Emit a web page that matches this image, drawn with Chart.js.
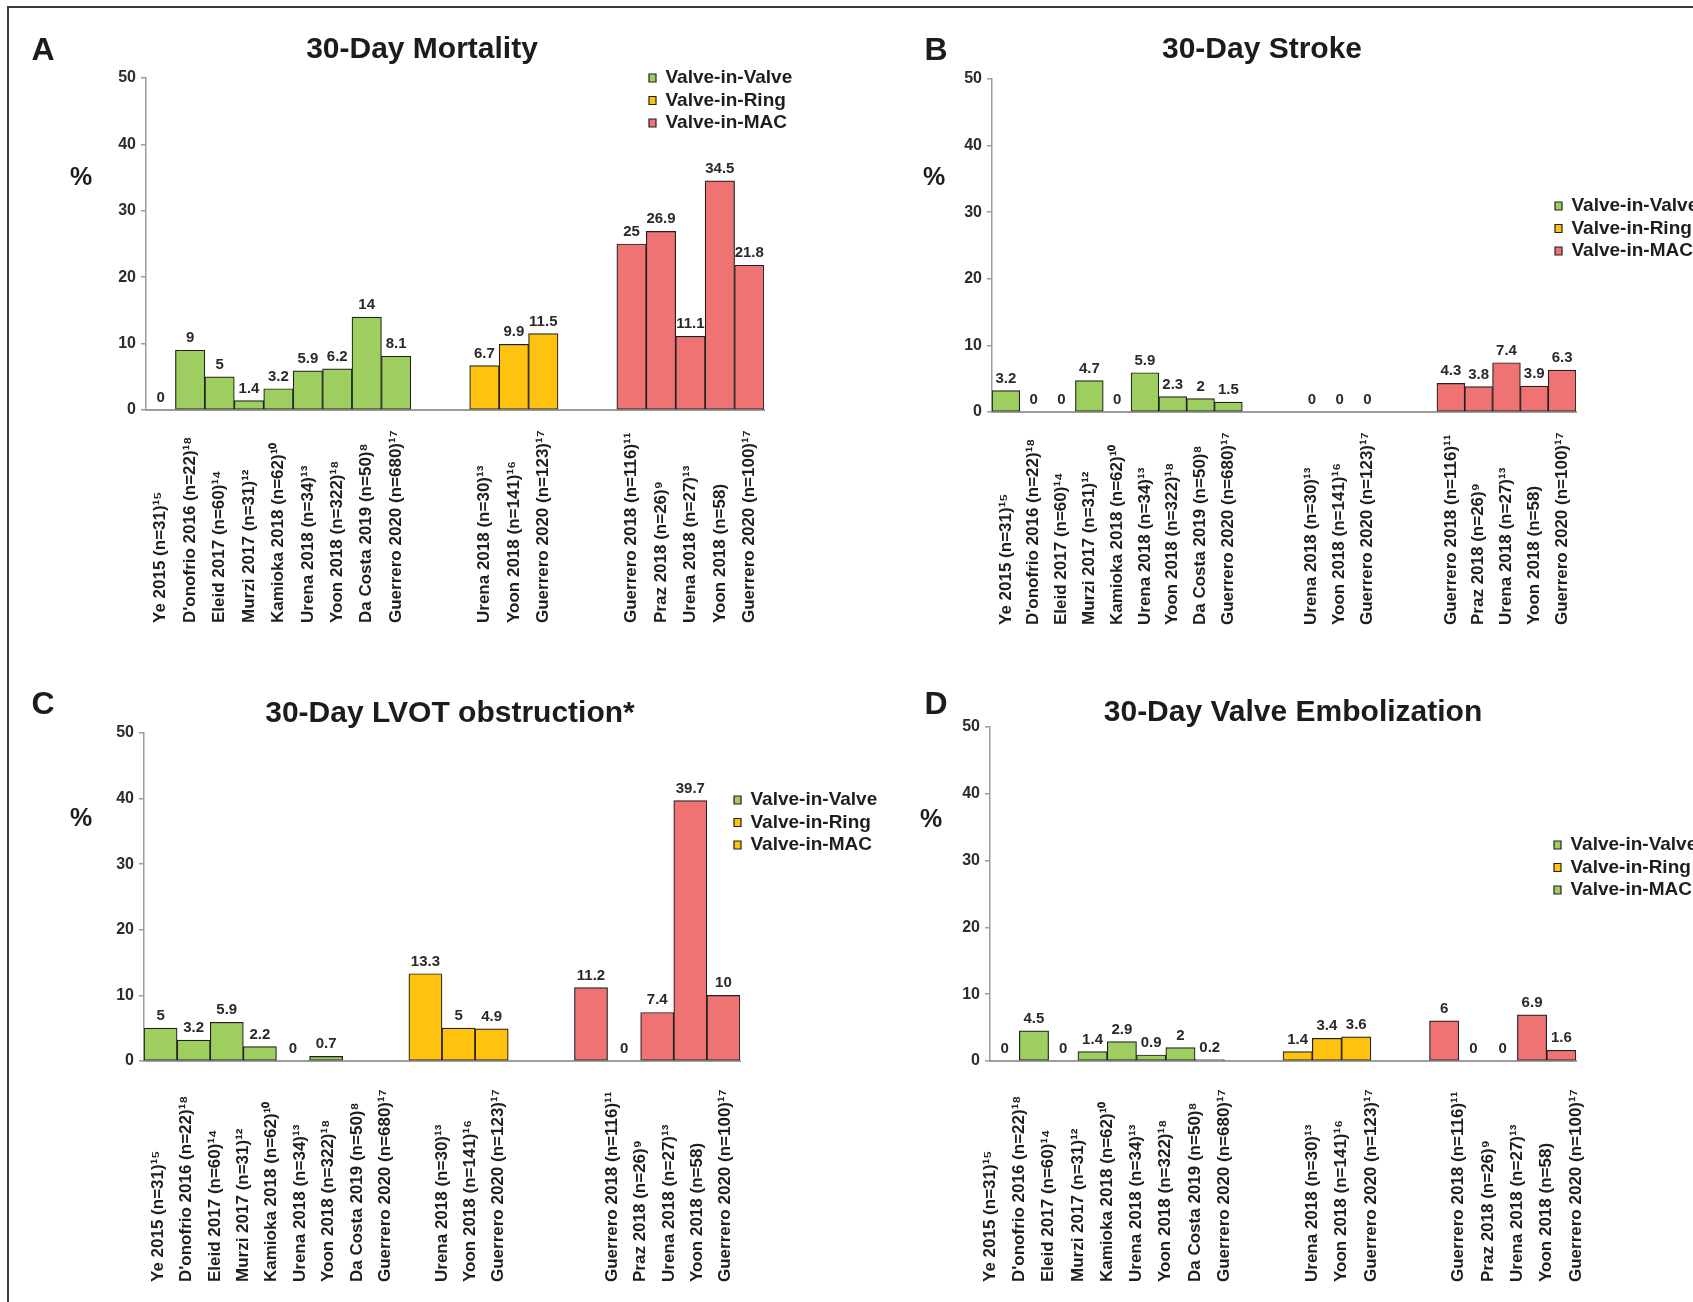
<!DOCTYPE html>
<html>
<head>
<meta charset="utf-8">
<script src="https://cdn.jsdelivr.net/npm/chart.js@4.4.1/dist/chart.umd.min.js"></script>
<style>
  html, body { margin: 0; padding: 0; background: #fff; }
  body { width: 1693px; height: 1302px; position: relative; overflow: hidden;
         font-family: "Liberation Sans", Arial, Helvetica, sans-serif; }
  .frame { position: absolute; left: 7px; top: 6px; width: 1720px; height: 1400px;
           border-top: 2px solid #3a3a3a; border-left: 2px solid #3a3a3a; }
  canvas.panel { position: absolute; }
  .txt { position: absolute; transform: translate(-50%, -50%); line-height: 1;
         font-weight: bold; color: #1c1c1c; white-space: nowrap; }
</style>
</head>
<body>
<div class="frame"></div>
<canvas id="panelA" class="panel" style="left:0px;top:0px;width:846px;height:650px" width="846" height="650"></canvas>
<canvas id="panelB" class="panel" style="left:846px;top:0px;width:847px;height:650px" width="847" height="650"></canvas>
<canvas id="panelC" class="panel" style="left:0px;top:650px;width:900px;height:652px" width="900" height="652"></canvas>
<canvas id="panelD" class="panel" style="left:846px;top:650px;width:847px;height:652px" width="847" height="652"></canvas>

<div class="txt" style="left:43px;top:49px;font-size:32px">A</div>
<div class="txt" style="left:936px;top:49px;font-size:32px">B</div>
<div class="txt" style="left:43px;top:703px;font-size:32px">C</div>
<div class="txt" style="left:936px;top:703px;font-size:32px">D</div>
<div class="txt" style="left:81px;top:176px;font-size:25px">%</div>
<div class="txt" style="left:934px;top:176px;font-size:25px">%</div>
<div class="txt" style="left:81px;top:817px;font-size:25px">%</div>
<div class="txt" style="left:931px;top:818px;font-size:25px">%</div>

<script>
// ---------------- data ----------------
const seriesNames = ['Valve-in-Valve', 'Valve-in-Ring', 'Valve-in-MAC'];

const vivStudies = ['Ye 2015 (n=31)¹⁵', "D'onofrio 2016 (n=22)¹⁸", 'Eleid 2017 (n=60)¹⁴',
  'Murzi 2017 (n=31)¹²', 'Kamioka 2018 (n=62)¹⁰', 'Urena 2018 (n=34)¹³',
  'Yoon 2018 (n=322)¹⁸', 'Da Costa 2019 (n=50)⁸', 'Guerrero 2020 (n=680)¹⁷'];
const virStudies = ['Urena 2018 (n=30)¹³', 'Yoon 2018 (n=141)¹⁶', 'Guerrero 2020 (n=123)¹⁷'];
const macStudies = ['Guerrero 2018 (n=116)¹¹', 'Praz 2018 (n=26)⁹', 'Urena 2018 (n=27)¹³',
  'Yoon 2018 (n=58)', 'Guerrero 2020 (n=100)¹⁷'];

const yTickMin = 0;
const yTickMax = 50;
const yTickStep = 10;

const mortalityViV = [0, 9, 5, 1.4, 3.2, 5.9, 6.2, 14, 8.1];
const mortalityViR = [6.7, 9.9, 11.5];
const mortalityMAC = [25, 26.9, 11.1, 34.5, 21.8];

const strokeViV = [3.2, 0, 0, 4.7, 0, 5.9, 2.3, 2, 1.5];
const strokeViR = [0, 0, 0];
const strokeMAC = [4.3, 3.8, 7.4, 3.9, 6.3];

const lvotViV = [5, 3.2, 5.9, 2.2, 0, 0.7];
const lvotViR = [13.3, 5, 4.9];
const lvotMAC = [11.2, 0, 7.4, 39.7, 10];

const embolViV = [0, 4.5, 0, 1.4, 2.9, 0.9, 2, 0.2];
const embolViR = [1.4, 3.4, 3.6];
const embolMAC = [6, 0, 0, 6.9, 1.6];

const titles = ['30-Day Mortality', '30-Day Stroke', '30-Day LVOT obstruction*', '30-Day Valve Embolization'];

// ---------------- styles / layout ----------------
const FONT = '"Liberation Sans", Arial, Helvetica, sans-serif';
const GREEN = '#9dce5f', YELLOW = '#ffc20e', RED = '#f07373';
const barColors = [GREEN, YELLOW, RED];
const AXIS_GREY = '#9c9c9c';
const BAR_GAP = 2;

const layouts = [
  { id: 'panelA', w: 846, h: 650, caLeft: 146, caRight: 764, caTop: 78, caBottom: 410,
    title: [422, 50], legend: [649, 78], labelDrop: 213, labelGaps: [2, 2], labelOffset: true,
    legendColors: [GREEN, YELLOW, RED] },
  { id: 'panelB', w: 847, h: 650, caLeft: 146, caRight: 730, caTop: 79, caBottom: 412,
    title: [416, 50], legend: [709, 206], labelDrop: 213, labelGaps: [2, 2], labelOffset: true,
    legendColors: [GREEN, YELLOW, RED] },
  { id: 'panelC', w: 900, h: 652, caLeft: 144, caRight: 740, caTop: 83, caBottom: 411,
    title: [450, 64], legend: [734, 150], labelDrop: 221, labelGaps: [1, 3], labelOffset: true,
    legendColors: [GREEN, YELLOW, YELLOW] },
  { id: 'panelD', w: 847, h: 652, caLeft: 144, caRight: 730, caTop: 77, caBottom: 411,
    title: [447, 63], legend: [708, 195], labelDrop: 221, labelGaps: [2, 2], labelOffset: false,
    legendColors: [GREEN, YELLOW, GREEN] }
];

const panelSeries = [
  [mortalityViV, mortalityViR, mortalityMAC],
  [strokeViV, strokeViR, strokeMAC],
  [lvotViV, lvotViR, lvotMAC],
  [embolViV, embolViR, embolMAC]
];

// ---------------- helpers ----------------
function buildBars(groups) {
  const labels = [];
  const data = groups.map(() => []);
  groups.forEach((vals, g) => {
    vals.forEach((v, k) => {
      labels.push(seriesNames[g] + ' #' + (k + 1));
      data.forEach((arr, d) => arr.push(d === g ? v : null));
    });
    if (g < groups.length - 1) {
      for (let k = 0; k < BAR_GAP; k++) {
        labels.push('gap ' + g + '.' + k);
        data.forEach(arr => arr.push(null));
      }
    }
  });
  return { labels, data };
}

function buildStudyLabels(gaps) {
  const out = [];
  [vivStudies, virStudies, macStudies].forEach((arr, g) => {
    out.push(...arr);
    if (g < 2) for (let k = 0; k < gaps[g]; k++) out.push('');
  });
  return out;
}

const valueLabels = {
  id: 'valueLabels',
  afterDatasetsDraw(chart) {
    const ctx = chart.ctx;
    ctx.save();
    ctx.font = 'bold 15px ' + FONT;
    ctx.fillStyle = '#2a2a2a';
    ctx.textAlign = 'center';
    ctx.textBaseline = 'alphabetic';
    chart.data.datasets.forEach((ds, i) => {
      const meta = chart.getDatasetMeta(i);
      meta.data.forEach((el, j) => {
        const v = ds.data[j];
        if (v === null || v === undefined) return;
        ctx.fillText(String(v), el.x, el.y - 8);
      });
    });
    ctx.restore();
  }
};

const placeBoxes = {
  id: 'placeBoxes',
  afterLayout(chart, args, opts) {
    const t = chart.titleBlock;
    if (t && opts.title) {
      const w = t.right - t.left, h = t.bottom - t.top;
      t.left = opts.title[0] - w / 2; t.right = t.left + w;
      t.top = opts.title[1] - h / 2; t.bottom = t.top + h;
    }
    const lg = chart.legend;
    if (lg && opts.legend) {
      const lo = lg.options.labels;
      const pad = lo.padding;
      const fs = lo.font.size;
      const w = lg.right - lg.left, h = lg.bottom - lg.top;
      lg.left = opts.legend[0] - pad; lg.right = lg.left + w;
      lg.top = opts.legend[1] - pad - fs / 2; lg.bottom = lg.top + h;
    }
  }
};

function labelAxisAfterFit(lay) {
  return function (scale) {
    scale.height = lay.h - lay.caBottom;
    if (!scale._startAligned) {
      scale._startAligned = true;
      const compute = scale._computeLabelItems;
      scale._computeLabelItems = function (area) {
        const items = compute.call(this, area);
        const base = this.top + lay.labelDrop;
        items.forEach(item => {
          item.options.textAlign = 'left';
          item.options.translation = [item.options.translation[0], base];
        });
        return items;
      };
    }
  };
}

Chart.defaults.font.family = FONT;
Chart.defaults.color = '#222';

layouts.forEach((lay, p) => {
  const bars = buildBars(panelSeries[p]);
  const studyLabels = buildStudyLabels(lay.labelGaps);
  const titleSize = 30;
  const titleH = titleSize * 1.2;

  new Chart(document.getElementById(lay.id), {
    type: 'bar',
    data: {
      labels: bars.labels,
      datasets: seriesNames.map((name, g) => ({
        label: name,
        data: bars.data[g],
        backgroundColor: c => (c.raw ? barColors[g] : 'rgba(0,0,0,0)'),
        borderColor: '#202020',
        borderWidth: c => (c.raw ? 1.2 : 0),
        borderSkipped: false,
        barPercentage: 1,
        categoryPercentage: 1,
        grouped: false
      }))
    },
    options: {
      responsive: false,
      animation: false,
      devicePixelRatio: 1,
      events: [],
      layout: { padding: { left: 0, right: lay.w - lay.caRight, top: lay.caTop - titleH, bottom: 0 } },
      scales: {
        x: { type: 'category', display: false, offset: true },
        xl: {
          type: 'category',
          position: 'bottom',
          labels: studyLabels,
          offset: lay.labelOffset,
          grid: { display: false, drawTicks: false },
          border: { display: true, color: AXIS_GREY, width: 2 },
          ticks: { autoSkip: false, minRotation: 90, maxRotation: 90, padding: 0,
                   color: '#1e1e1e', font: { size: 17, weight: 'bold' } },
          afterFit: labelAxisAfterFit(lay)
        },
        y: {
          min: yTickMin, max: yTickMax,
          ticks: { stepSize: yTickStep, padding: 5, color: '#2c2c2c',
                   font: { size: 16, weight: 'bold' } },
          grid: { drawOnChartArea: false, drawTicks: true, tickLength: 5,
                  color: AXIS_GREY, lineWidth: 1.5 },
          border: { display: true, color: AXIS_GREY, width: 1.5 },
          afterFit: s => { s.width = lay.caLeft; }
        }
      },
      plugins: {
        tooltip: { enabled: false },
        title: {
          display: true, text: titles[p], color: '#1c1c1c',
          font: { size: titleSize, weight: 'bold', lineHeight: 1.2 },
          padding: 0
        },
        legend: {
          display: true, position: 'chartArea', align: 'start',
          labels: {
            boxWidth: 7, boxHeight: 8, padding: 3.5, color: '#1e1e1e',
            font: { size: 19, weight: 'bold' },
            generateLabels(chart) {
              const items = Chart.defaults.plugins.legend.labels.generateLabels(chart);
              items.forEach((it, i) => {
                it.fillStyle = lay.legendColors[i];
                it.strokeStyle = '#202020';
                it.lineWidth = 1.2;
              });
              return items;
            }
          }
        },
        placeBoxes: { title: lay.title, legend: lay.legend }
      }
    },
    plugins: [placeBoxes, valueLabels]
  });
});
</script>
</body>
</html>
